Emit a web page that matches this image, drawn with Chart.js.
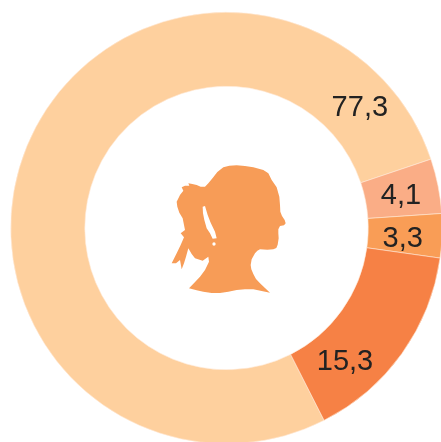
<!DOCTYPE html>
<html>
<head>
<meta charset="utf-8">
<style>html,body{margin:0;padding:0;background:#fff;overflow:hidden;width:441px;height:442px}canvas{display:block}</style>
<script src="https://cdn.jsdelivr.net/npm/chart.js@4"></script>
</head>
<body>
<canvas id="c" width="444" height="446"></canvas>
<script>
const categories = ['A', 'B', 'C', 'D'];
const values = [77.3, 4.1, 3.3, 15.3];
const tickLabels = ['77,3', '4,1', '3,3', '15,3'];
const sliceColors = ['#FED09E', '#FAAD86', '#F99D56', '#F68145'];
const labelAngles = [47.8, 79.3, 93.3, 138.4]; // degrees clockwise from top
const labelRadii = [180, 177.5, 176.5, 178.5];
const silhouetteOuter = [[87,415],[110,421],[130,425],[155,429],[180,429],[205,425],[230,420],[255,418],[280,418],[305,423],[330,428],[315,414],[300,400],[288,387],[280,372],[274,358],[272,345],[275,328],[285,310],[292,302],[300,298],[322,299],[340,298],[349,294],[353,284],[356,265],[355,250],[355,238],[360,228],[372,226],[377,220],[374,210],[366,198],[361,185],[360,165],[358,140],[350,112],[335,90],[325,70],[310,60],[280,52],[255,48],[230,46],[208,47],[190,52],[172,66],[158,84],[145,100],[135,110],[122,110],[110,105],[97,102],[85,100],[88,107],[75,107],[65,112],[70,122],[60,135],[50,155],[52,170],[58,188],[68,205],[72,225],[75,240],[62,250],[72,262],[62,285],[50,310],[35,340],[48,340],[60,330],[65,358],[72,340],[78,320],[85,295],[95,312],[105,325],[128,332],[145,320],[147,335],[135,360],[120,380],[103,398]];
const silhouetteGap = [[128,170],[135,168],[143,195],[152,218],[165,245],[170,265],[158,266],[150,250],[140,235],[133,210],[129,190]];

function polygon(ctx, pts) {
  pts.forEach((p, i) => i ? ctx.lineTo(p[0], p[1]) : ctx.moveTo(p[0], p[1]));
  ctx.closePath();
}

const overlay = {
  id: 'overlay',
  afterDatasetsDraw(chart) {
    const ctx = chart.ctx;
    const arcs = chart.getDatasetMeta(0).data;
    ctx.save();
    ctx.fillStyle = '#222222';
    ctx.font = '29px "Liberation Sans"';
    ctx.textAlign = 'center';
    ctx.textBaseline = 'middle';
    arcs.forEach((arc, i) => {
      const p = arc.getProps(['x','y'], true);
      const r = labelRadii[i];
      const a = labelAngles[i] * Math.PI / 180;
      ctx.fillText(tickLabels[i], p.x + r*Math.sin(a), p.y - r*Math.cos(a) + 1);
    });
    ctx.restore();
    // silhouette in the hole
    ctx.save();
    ctx.translate(160, 150);
    ctx.scale(1/3, 1/3);
    ctx.fillStyle = '#F79C57';
    ctx.beginPath();
    polygon(ctx, silhouetteOuter);
    polygon(ctx, silhouetteGap);
    ctx.moveTo(167, 282);
    ctx.arc(162, 282, 5, 0, Math.PI*2);
    ctx.fill('evenodd');
    ctx.restore();
  }
};

new Chart(document.getElementById('c'), {
  type: 'doughnut',
  data: {
    labels: categories,
    datasets: [{ data: values, backgroundColor: sliceColors, borderColor: '#FFE9D6', borderWidth: 0.6 }]
  },
  options: {
    responsive: false,
    animation: false,
    rotation: 153.1,
    cutout: '65.7%',
    layout: { padding: { left: 10.5, top: 12, right: 1.5, bottom: 2 } },
    plugins: { legend: { display: false }, tooltip: { enabled: false } }
  },
  plugins: [overlay]
});
</script>
</body>
</html>
